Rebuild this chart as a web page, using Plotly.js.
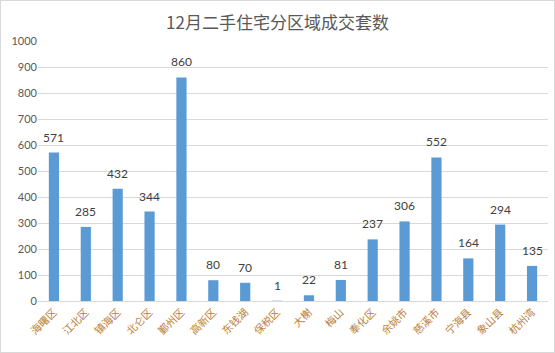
<!DOCTYPE html>
<html><head><meta charset="utf-8">
<script src="https://cdn.plot.ly/plotly-3.0.1.min.js"></script>
<style>html,body{margin:0;padding:0;background:#fff}#wrap{position:relative;width:555px;height:353px}#frame{position:absolute;left:0;top:0;width:553px;height:351px;border:1px solid #d9d9d9;pointer-events:none}</style>
</head><body>
<div id="wrap"><div id="chart" style="width:555px;height:353px"></div><div id="frame"></div></div>
<script>
const categories = ["海曙区","江北区","镇海区","北仑区","鄞州区","高新区","东钱湖","保税区","大榭","梅山","奉化区","余姚市","慈溪市","宁海县","象山县","杭州湾"];
const values = [571,285,432,344,860,80,70,1,22,81,237,306,552,164,294,135];
const yTicks = [0,100,200,300,400,500,600,700,800,900,1000];

const font = 'Lato, "Noto Sans CJK SC", sans-serif';
const labels = categories.map((c, i) => ({
  x: c, y: values[i], xref: 'x', yref: 'y',
  text: String(values[i]), showarrow: false,
  yanchor: 'bottom', yshift: 6,
  font: {family: font, size: 12, color: '#404040'}
}));
Plotly.newPlot('chart', [{
  type: 'bar',
  x: categories,
  y: values,
  marker: {color: '#5b9bd5'},
  hoverinfo: 'none'
}], {
  width: 555, height: 353,
  margin: {l: 38, r: 7, t: 41, b: 52},
  paper_bgcolor: '#fff', plot_bgcolor: '#fff',
  bargap: 0.68,
  showlegend: false,
  annotations: labels,
  title: {text: '12月二手住宅分区域成交套数', x: 0.5, xanchor: 'center', y: 0.935, yanchor: 'middle',
          font: {family: '"Noto Sans CJK SC", sans-serif', size: 17, color: '#595959'}},
  xaxis: {
    type: 'category',
    tickangle: -45,
    tickfont: {family: '"Noto Sans CJK SC", sans-serif', size: 10.5, color: '#b9803a'},
    showline: true, linecolor: '#d9d9d9', linewidth: 1,
    ticks: '', showgrid: false, fixedrange: true
  },
  yaxis: {
    range: [0, 1000],
    tickvals: yTicks,
    ticktext: yTicks.map(String),
    tickfont: {family: font, size: 11, color: '#595959'},
    gridcolor: '#d9d9d9', gridwidth: 1,
    zeroline: false, showline: false, ticks: '',
    fixedrange: true
  }
}, {staticPlot: true});
</script>
</body></html>
